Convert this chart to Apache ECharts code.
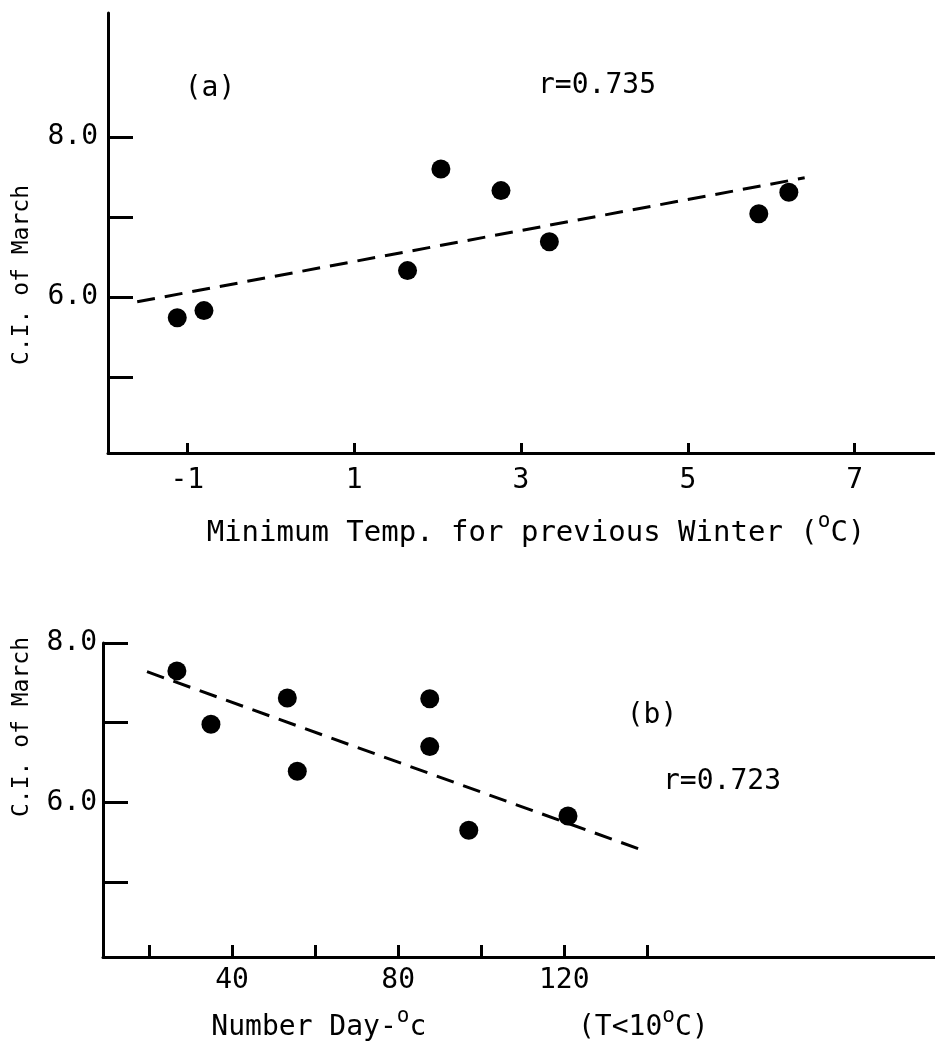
<!DOCTYPE html>
<html>
<head>
<meta charset="utf-8">
<script src="https://cdn.jsdelivr.net/npm/echarts@6/dist/echarts.min.js"></script>
<style>
html,body{margin:0;padding:0;background:#fff;}
#chart{width:935px;height:1047px;}
</style>
</head>
<body>
<div id="chart"></div>
<script>
// ---- Panel (a) data ----
const topX = [-1.12, -0.80, 1.64, 2.04, 2.76, 3.34, 5.85, 6.21];
const topY = [5.74, 5.83, 6.33, 7.60, 7.33, 6.69, 7.04, 7.31];
const topFitX = [-1.6, 6.40];
const topFitY = [5.94, 7.49];
const topXTicks = [-1, 1, 3, 5, 7];
const topYTicks = [5, 6, 7, 8];
const topYLabels = [6, 8];

// ---- Panel (b) data ----
const botX = [26.7, 34.9, 53.3, 55.7, 87.6, 87.6, 97.0, 120.9];
const botY = [7.65, 6.98, 7.31, 6.39, 7.30, 6.70, 5.65, 5.83];
const botFitX = [19.5, 137.8];
const botFitY = [7.64, 5.42];
const botXTicks = [20, 40, 60, 80, 100, 120, 140];
const botXLabels = [40, 80, 120];
const botYTicks = [5, 6, 7, 8];
const botYLabels = [6, 8];

const FONT = '"DejaVu Sans Mono", "Liberation Mono", monospace';
const FS = 28;
const textBase = { fontFamily: FONT, fontSize: FS, color: '#000' };
const supRich = {
  sup: { fontFamily: FONT, fontSize: 21, color: '#000', lineHeight: 12, padding: [0, 0, 22, 0] }
};

function pairs(xs, ys) { return xs.map((x, i) => [x, ys[i]]); }

const axisLine = { show: true, onZero: false, lineStyle: { color: '#000', width: 3 } };

const chart = echarts.init(document.getElementById('chart'), null, { renderer: 'canvas' });

const option = {
  backgroundColor: '#fff',
  animation: false,
  grid: [
    { left: 108, top: 13, width: 826, height: 440, outerBoundsMode: 'none', containLabel: false },
    { left: 103, top: 643, width: 832, height: 314, outerBoundsMode: 'none', containLabel: false }
  ],
  xAxis: [
    {
      gridIndex: 0, type: 'value', min: -1.95, max: 7.95,
      axisLine: axisLine,
      axisTick: { show: true, inside: true, length: 10, lineStyle: { color: '#000', width: 3 }, customValues: topXTicks },
      axisLabel: { show: true, margin: 14, ...textBase, customValues: topXTicks, formatter: v => String(v) },
      splitLine: { show: false },
      name: 'Minimum Temp. for previous Winter ({sup|o}C)',
      nameLocation: 'middle', nameGap: 63,
      nameTextStyle: { ...textBase, fontSize: 29, lineHeight: 34, padding: [0, 0, 0, 30], rich: supRich }
    },
    {
      gridIndex: 1, type: 'value', min: 8.9, max: 209.3,
      axisLine: axisLine,
      axisTick: { show: true, inside: true, length: 12, lineStyle: { color: '#000', width: 3 }, customValues: botXTicks },
      axisLabel: { show: true, margin: 10, ...textBase, customValues: botXLabels, formatter: v => String(v) },
      splitLine: { show: false },
      name: 'Number Day-{sup|o}c         (T<10{sup|o}C)',
      nameLocation: 'middle', nameGap: 54,
      nameTextStyle: { ...textBase, lineHeight: 34, padding: [0, 118, 0, 0], rich: supRich }
    }
  ],
  yAxis: [
    {
      gridIndex: 0, type: 'value', min: 4.05, max: 9.55,
      axisLine: axisLine,
      axisTick: { show: true, inside: true, length: 25, lineStyle: { color: '#000', width: 3 }, customValues: topYTicks },
      axisLabel: { show: true, margin: 10, ...textBase, customValues: topYLabels, formatter: v => v.toFixed(1) },
      splitLine: { show: false },
      name: 'C.I. of March',
      nameLocation: 'middle', nameGap: 74, nameRotate: 90,
      nameTextStyle: { ...textBase, fontSize: 23, padding: [0, 84, 0, 0] }
    },
    {
      gridIndex: 1, type: 'value', min: 4.06, max: 8.0,
      axisLine: axisLine,
      axisTick: { show: true, inside: true, length: 25, lineStyle: { color: '#000', width: 3 }, customValues: botYTicks },
      axisLabel: { show: true, margin: 6, ...textBase, customValues: botYLabels, formatter: v => v.toFixed(1) },
      splitLine: { show: false },
      name: 'C.I. of March',
      nameLocation: 'middle', nameGap: 69, nameRotate: 90,
      nameTextStyle: { ...textBase, fontSize: 23, padding: [0, 0, 0, 146] }
    }
  ],
  graphic: [
    { type: 'text', x: 210, y: 89, style: { text: '(a)', font: FS + 'px ' + FONT, fill: '#000', textAlign: 'center', textVerticalAlign: 'middle' } },
    { type: 'text', x: 597, y: 86, style: { text: 'r=0.735', font: FS + 'px ' + FONT, fill: '#000', textAlign: 'center', textVerticalAlign: 'middle' } },
    { type: 'text', x: 652, y: 716, style: { text: '(b)', font: FS + 'px ' + FONT, fill: '#000', textAlign: 'center', textVerticalAlign: 'middle' } },
    { type: 'text', x: 722, y: 782, style: { text: 'r=0.723', font: FS + 'px ' + FONT, fill: '#000', textAlign: 'center', textVerticalAlign: 'middle' } }
  ],
  series: [
    {
      type: 'line', xAxisIndex: 0, yAxisIndex: 0, data: pairs(topFitX, topFitY),
      symbol: 'none', lineStyle: { color: '#000', width: 3, type: [18, 10] }, silent: true
    },
    {
      type: 'scatter', xAxisIndex: 0, yAxisIndex: 0, data: pairs(topX, topY),
      symbol: 'circle', symbolSize: 19, itemStyle: { color: '#000', opacity: 1 }
    },
    {
      type: 'line', xAxisIndex: 1, yAxisIndex: 1, data: pairs(botFitX, botFitY),
      symbol: 'none', lineStyle: { color: '#000', width: 3, type: [18, 10] }, silent: true
    },
    {
      type: 'scatter', xAxisIndex: 1, yAxisIndex: 1, data: pairs(botX, botY),
      symbol: 'circle', symbolSize: 19, itemStyle: { color: '#000', opacity: 1 }
    }
  ]
};
chart.setOption(option);
</script>
</body>
</html>
